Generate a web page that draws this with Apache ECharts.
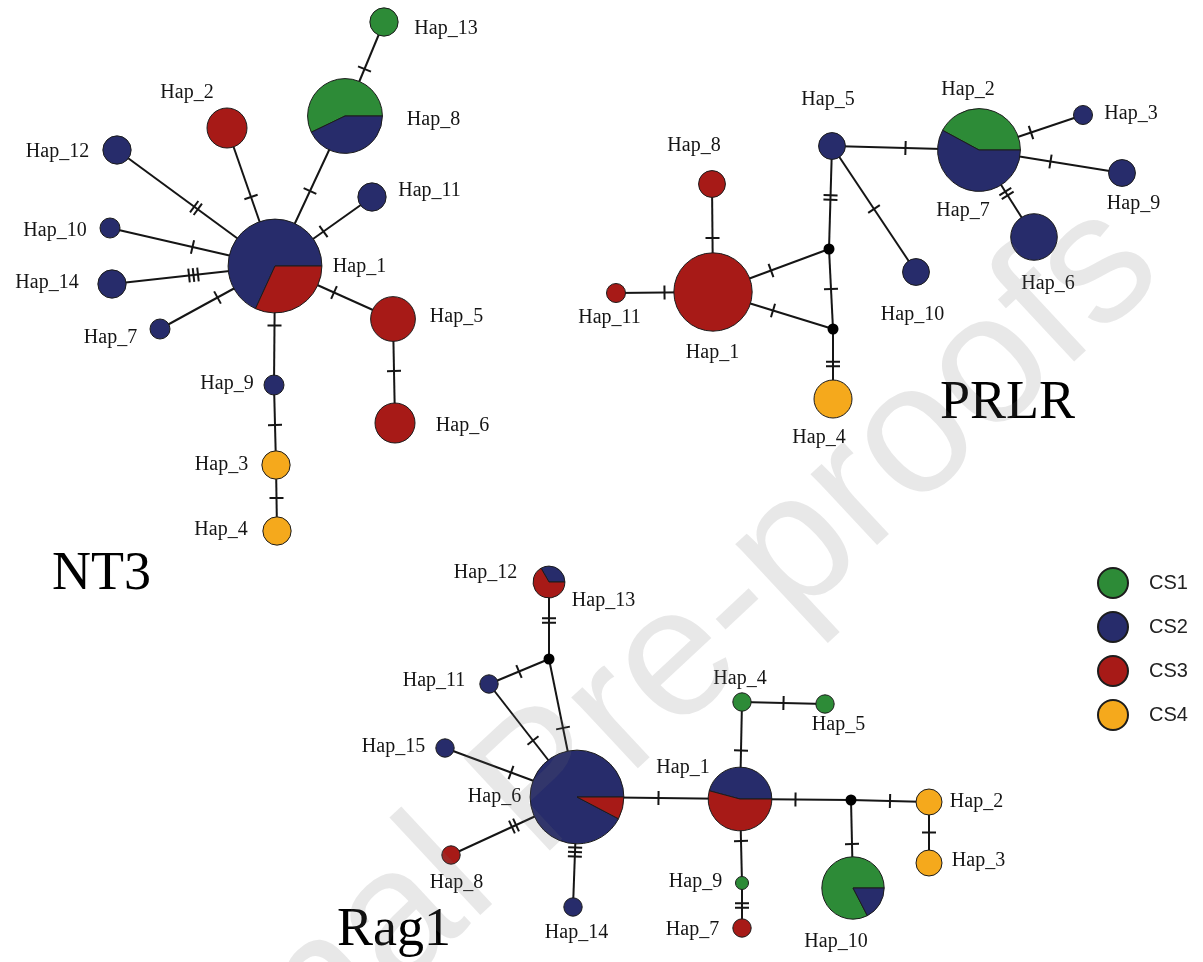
<!DOCTYPE html>
<html><head><meta charset="utf-8">
<script src="https://cdn.jsdelivr.net/npm/echarts@6/dist/echarts.min.js"></script>
<style>html,body{margin:0;padding:0;background:#fff}#c{width:1203px;height:962px}</style>
</head><body><div id="c"></div>
<script>
// ---------------- DATA ----------------
const populations = ['CS1', 'CS2', 'CS3', 'CS4'];

// NT3 network
const nt3Names = ['Hap_1','Hap_2','Hap_3','Hap_4','Hap_5','Hap_6','Hap_7','Hap_8','Hap_9','Hap_10','Hap_11','Hap_12','Hap_13','Hap_14'];
const nt3X = [275,227,276,277,393,395,160,345,274,110,372,117,384,112];
const nt3Y = [266,128,465,531,319,423,329,116,385,228,197,150,22,284];
const nt3Counts = [[0,15,7,0],[0,0,4,0],[0,0,0,2],[0,0,0,2],[0,0,5,0],[0,0,4,0],[0,1,0,0],[8,6,0,0],[0,1,0,0],[0,1,0,0],[0,2,0,0],[0,2,0,0],[2,0,0,0],[0,2,0,0]];
const nt3Edges = [['Hap_1','Hap_2',1],['Hap_1','Hap_8',1],['Hap_8','Hap_13',1],['Hap_1','Hap_12',2],['Hap_1','Hap_11',1],['Hap_1','Hap_10',1],['Hap_1','Hap_14',3],['Hap_1','Hap_7',1],['Hap_1','Hap_5',1],['Hap_5','Hap_6',1],['Hap_1','Hap_9',1],['Hap_9','Hap_3',1],['Hap_3','Hap_4',1]];

// PRLR network (mv = median vectors)
const prlrNames = ['Hap_1','Hap_2','Hap_3','Hap_4','Hap_5','Hap_6','Hap_8','Hap_9','Hap_10','Hap_11','mv1','mv2'];
const prlrX = [713,979,1083,833,832,1034,712,1122,916,616,829,833];
const prlrY = [292,150,115,399,146,237,184,173,272,293,249,329];
const prlrCounts = [[0,0,17,0],[8,11,0,0],[0,1,0,0],[0,0,0,4],[0,2,0,0],[0,6,0,0],[0,0,2,0],[0,2,0,0],[0,2,0,0],[0,0,1,0],[0,0,0,0],[0,0,0,0]];
const prlrEdges = [['Hap_1','Hap_8',1],['Hap_1','Hap_11',1],['Hap_1','mv1',1],['Hap_1','mv2',1],['mv1','mv2',1],['mv1','Hap_5',2],['mv2','Hap_4',2],['Hap_5','Hap_2',1],['Hap_5','Hap_10',1],['Hap_2','Hap_3',1],['Hap_2','Hap_9',1],['Hap_2','Hap_6',2]];
const prlrSharedLabels = [['Hap_7','Hap_2']];

// Rag1 network
const ragNames = ['Hap_1','Hap_2','Hap_3','Hap_4','Hap_5','Hap_6','Hap_7','Hap_8','Hap_9','Hap_10','Hap_11','Hap_12','Hap_14','Hap_15','mv1','mv2'];
const ragX = [740,929,929,742,825,577,742,451,742,853,489,549,573,445,549,851];
const ragY = [799,802,863,702,704,797,928,855,883,888,684,582,907,748,659,800];
const ragCounts = [[0,11,13,0],[0,0,0,4],[0,0,0,4],[2,0,0,0],[2,0,0,0],[0,48,4,0],[0,0,2,0],[0,0,2,0],[1,0,0,0],[19,4,0,0],[0,2,0,0],[0,2,4,0],[0,2,0,0],[0,2,0,0],[0,0,0,0],[0,0,0,0]];
const ragEdges = [['Hap_12','mv1',2],['mv1','Hap_11',1],['mv1','Hap_6',1],['Hap_11','Hap_6',1],['Hap_15','Hap_6',1],['Hap_8','Hap_6',2],['Hap_14','Hap_6',3],['Hap_6','Hap_1',1],['Hap_1','Hap_4',1],['Hap_4','Hap_5',1],['Hap_1','mv2',1],['mv2','Hap_2',1],['Hap_2','Hap_3',1],['mv2','Hap_10',1],['Hap_1','Hap_9',1],['Hap_9','Hap_7',2]];
const ragSharedLabels = [['Hap_13','Hap_12']];

const networkTitles = ['NT3', 'PRLR', 'Rag1'];

// ---------------- LAYOUT / STYLE ----------------
const popColors = ['#2d8b37', '#272c6b', '#a71a17', '#f5a91c'];
const nt3LabelOffsets = [[84.5,1],[-40,-35],[-54.5,0],[-56,-1],[63.5,-2],[67.5,3],[-49.5,9],[88.5,4],[-47,-1],[-55,3],[57.5,-6],[-59.5,2],[62,7],[-65,-1]];
const prlrLabelOffsets = [[-0.5,61],[-11,-60],[48,-1],[-14,39],[-4,-46],[14,47],[-18,-38],[11.5,31],[-3.5,43],[-6.5,25],null,null];
const prlrSharedOffsets = [[-16,61]];
const ragLabelOffsets = [[-57,-31],[47.5,0],[49.5,-2],[-2,-23],[13.5,21],[-82.5,0],[-49.5,2],[5.5,28],[-46.5,-1],[-17,54],[-55,-3],[-63.5,-9],[3.5,26],[-51.5,-1],null,null];
const ragSharedOffsets = [[54.5,19]];
const titlePos = [[52,575],[940,404],[337,931]];

const networks = [
  {names: nt3Names, x: nt3X, y: nt3Y, counts: nt3Counts, edges: nt3Edges, shared: [], base: 10, offsets: nt3LabelOffsets, sharedOffsets: []},
  {names: prlrNames, x: prlrX, y: prlrY, counts: prlrCounts, edges: prlrEdges, shared: prlrSharedLabels, base: 9.5, offsets: prlrLabelOffsets, sharedOffsets: prlrSharedOffsets},
  {names: ragNames, x: ragX, y: ragY, counts: ragCounts, edges: ragEdges, shared: ragSharedLabels, base: 6.5, offsets: ragLabelOffsets, sharedOffsets: ragSharedOffsets}
];

const LINE = '#151515';
const TICK_HALF = 7, TICK_GAP = 4.5;
const LABEL_FONT = '20px "Liberation Serif", "Times New Roman", serif';

function edgeSeries(net) {
  const idx = n => net.names.indexOf(n);
  const data = net.edges.map(e => [net.x[idx(e[0])], net.y[idx(e[0])], net.x[idx(e[1])], net.y[idx(e[1])], e[2]]);
  return {
    type: 'custom', coordinateSystem: 'cartesian2d', z: 2, clip: false, silent: true,
    encode: {x: [0, 2], y: [1, 3]},
    data: data,
    renderItem: function (params, api) {
      const a = api.coord([api.value(0), api.value(1)]);
      const b = api.coord([api.value(2), api.value(3)]);
      const m = api.value(4);
      const dx = b[0] - a[0], dy = b[1] - a[1], len = Math.hypot(dx, dy);
      const ux = dx / len, uy = dy / len, px = -uy, py = ux;
      const mx = (a[0] + b[0]) / 2, my = (a[1] + b[1]) / 2;
      const children = [{type: 'line', shape: {x1: a[0], y1: a[1], x2: b[0], y2: b[1]}, style: {stroke: LINE, lineWidth: 2}}];
      for (let k = 0; k < m; k++) {
        const off = (k - (m - 1) / 2) * TICK_GAP;
        const cx = mx + ux * off, cy = my + uy * off;
        children.push({type: 'line', shape: {x1: cx - px * TICK_HALF, y1: cy - py * TICK_HALF, x2: cx + px * TICK_HALF, y2: cy + py * TICK_HALF}, style: {stroke: LINE, lineWidth: 2}});
      }
      return {type: 'group', children: children};
    }
  };
}

function textEl(str, x, y) {
  return {type: 'text', x: x, y: y, style: {text: str, fill: '#141414', font: LABEL_FONT, align: 'center', verticalAlign: 'middle', textAlign: 'center', textVerticalAlign: 'middle'}};
}

function nodeSeries(net) {
  const data = net.names.map((n, i) => [net.x[i], net.y[i], i]);
  return {
    type: 'custom', coordinateSystem: 'cartesian2d', z: 3, clip: false, silent: true,
    encode: {x: 0, y: 1},
    data: data,
    renderItem: function (params, api) {
      const i = api.value(2);
      const c = api.coord([api.value(0), api.value(1)]);
      const counts = net.counts[i];
      const total = counts.reduce((s, v) => s + v, 0);
      const children = [];
      if (total === 0) {
        children.push({type: 'circle', shape: {cx: c[0], cy: c[1], r: 5.5}, style: {fill: '#000'}});
      } else {
        const r = net.base * Math.sqrt(total);
        const nz = counts.filter(v => v > 0).length;
        if (nz === 1) {
          const k = counts.findIndex(v => v > 0);
          children.push({type: 'circle', shape: {cx: c[0], cy: c[1], r: r}, style: {fill: popColors[k], stroke: '#1c1c1c', lineWidth: 1}});
        } else {
          let acc = 0;
          counts.forEach((v, k) => {
            if (!v) return;
            const a0 = acc / total * Math.PI * 2;
            acc += v;
            const a1 = acc / total * Math.PI * 2;
            children.push({type: 'sector', shape: {cx: c[0], cy: c[1], r0: 0, r: r, startAngle: -a0, endAngle: -a1, clockwise: false}, style: {fill: popColors[k], stroke: '#1c1c1c', lineWidth: 1}});
          });
        }
        const off = net.offsets[i];
        if (off) children.push(textEl(net.names[i], c[0] + off[0], c[1] + off[1]));
        net.shared.forEach((s, j) => {
          if (s[1] === net.names[i]) {
            const so = net.sharedOffsets[j];
            children.push(textEl(s[0], c[0] + so[0], c[1] + so[1]));
          }
        });
      }
      return {type: 'group', children: children};
    }
  };
}

const series = [];
networks.forEach(net => { series.push(edgeSeries(net)); });
networks.forEach(net => { series.push(nodeSeries(net)); });
populations.forEach((p, k) => {
  series.push({type: 'scatter', name: p, data: [], itemStyle: {color: popColors[k], opacity: 1, borderColor: '#1c1c1c', borderWidth: 1}});
});

const graphics = networkTitles.map((t, i) => ({
  type: 'text', x: titlePos[i][0], y: titlePos[i][1], z: 10,
  style: {text: t, fill: '#000', font: '54px "Liberation Serif", "Times New Roman", serif', textAlign: 'left', textVerticalAlign: 'middle', align: 'left', verticalAlign: 'middle'}
}));
graphics.push({
  type: 'text', x: 1195, y: 305, rotation: 43 * Math.PI / 180, z: 100, silent: true,
  style: {text: 'Journal Pre-proofs', fill: 'rgba(110,110,110,0.16)', font: '184px "Liberation Sans", Arial, sans-serif', textAlign: 'right', textVerticalAlign: 'bottom', align: 'right', verticalAlign: 'bottom'}
});

const chart = echarts.init(document.getElementById('c'), null, {renderer: 'canvas'});
chart.setOption({
  animation: false,
  backgroundColor: '#ffffff',
  grid: {left: 0, right: 0, top: 0, bottom: 0, containLabel: false},
  xAxis: {type: 'value', min: 0, max: 1203, show: false},
  yAxis: {type: 'value', min: 0, max: 962, inverse: true, show: false},
  legend: {
    orient: 'vertical', left: 1092, top: 562, itemWidth: 30, itemHeight: 30, itemGap: 12, icon: 'circle',
    selectedMode: false,
    itemStyle: {opacity: 1},
    textStyle: {fontFamily: '"Liberation Sans", Arial, sans-serif', fontSize: 20, color: '#222', padding: [0, 0, 0, 16]},
    data: populations
  },
  graphic: graphics,
  series: series
});
</script>
</body></html>
